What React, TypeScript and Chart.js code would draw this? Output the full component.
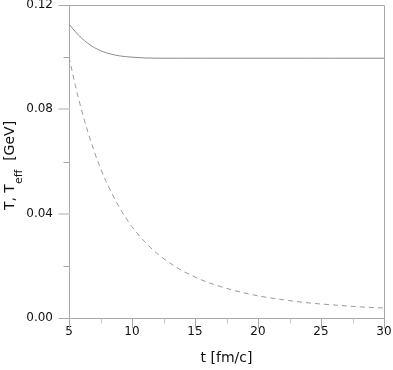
import React, { useEffect, useRef } from "react";
import { Chart, registerables } from "chart.js";

Chart.register(...registerables);

// time [fm/c]
const tValues = [5, 5.5, 6, 6.5, 7, 7.5, 8, 9, 10, 11, 12, 13, 14, 15, 16, 18, 20, 22, 24, 26, 28, 30];
// T [GeV] (solid)
const tempT = [0.1127, 0.1098, 0.1073, 0.1053, 0.1037, 0.1025, 0.1016, 0.1005, 0.1, 0.0997, 0.0996, 0.0996, 0.0996, 0.0996, 0.0996, 0.0996, 0.0996, 0.0996, 0.0996, 0.0996, 0.0996, 0.0996];
// T_eff [GeV] (dashed)
const tempTeff = [0.1, 0.0892, 0.0797, 0.0713, 0.0639, 0.0574, 0.0518, 0.0424, 0.035, 0.0293, 0.0247, 0.0211, 0.0181, 0.0157, 0.0137, 0.0107, 0.0085, 0.007, 0.0058, 0.005, 0.0043, 0.0038];

const xMajorTicks = [5, 10, 15, 20, 25, 30];
const xMinorTicks = [7.5, 12.5, 17.5, 22.5, 27.5];
const yMajorTicks = [0, 0.04, 0.08, 0.12];
const yMinorTicks = [0.02, 0.06, 0.1];

const FONT = "'DejaVu Sans', Verdana, sans-serif";
const AXIS_COLOR = "#a8a8a8";

const ticksPlugin = {
  id: "customTicks",
  afterDraw(chart: any) {
    const { ctx, chartArea } = chart;
    const xs = chart.scales.x;
    const ys = chart.scales.y;
    const al = (p: number) => Math.round(p) + 0.5;
    ctx.save();
    // frame top & right
    ctx.strokeStyle = AXIS_COLOR;
    ctx.lineWidth = 1;
    ctx.beginPath();
    ctx.moveTo(al(chartArea.left), al(chartArea.top));
    ctx.lineTo(al(chartArea.right), al(chartArea.top));
    ctx.lineTo(al(chartArea.right), al(chartArea.bottom));
    ctx.stroke();
    // y ticks
    const left = al(chartArea.left);
    yMajorTicks.forEach((v) => {
      const y = ys.getPixelForValue(v);
      const edge = v === 0 || v === 0.12;
      ctx.strokeStyle = edge ? AXIS_COLOR : "#d6d6d6";
      ctx.lineWidth = edge ? 1 : 2;
      const yy = edge ? al(y) : Math.round(y);
      ctx.beginPath();
      ctx.moveTo(left - 11, yy);
      ctx.lineTo(left, yy);
      ctx.stroke();
    });
    yMinorTicks.forEach((v) => {
      const y = al(ys.getPixelForValue(v));
      ctx.strokeStyle = AXIS_COLOR;
      ctx.lineWidth = 1;
      ctx.beginPath();
      ctx.moveTo(left - 6, y);
      ctx.lineTo(left, y);
      ctx.stroke();
    });
    const bottom = al(chartArea.bottom);
    xMajorTicks.forEach((v) => {
      const x = al(xs.getPixelForValue(v));
      ctx.strokeStyle = AXIS_COLOR;
      ctx.lineWidth = 1;
      ctx.beginPath();
      ctx.moveTo(x, bottom);
      ctx.lineTo(x, bottom + 10);
      ctx.stroke();
    });
    xMinorTicks.forEach((v) => {
      const x = al(xs.getPixelForValue(v));
      ctx.strokeStyle = "#c4c4c4";
      ctx.lineWidth = 1;
      ctx.beginPath();
      ctx.moveTo(x, bottom);
      ctx.lineTo(x, bottom + 5);
      ctx.stroke();
    });
    // y title with subscript
    const cy = (chartArea.top + chartArea.bottom) / 2 + 4;
    ctx.translate(14, cy);
    ctx.rotate(-Math.PI / 2);
    ctx.fillStyle = "#111";
    ctx.textBaseline = "alphabetic";
    ctx.textAlign = "left";
    const mainFont = `14px ${FONT}`;
    const subFont = `11px ${FONT}`;
    const p1 = "T, T";
    const p2 = "eff";
    const p3 = "  [GeV]";
    ctx.font = mainFont;
    const w1 = ctx.measureText(p1).width;
    const w3 = ctx.measureText(p3).width;
    ctx.font = subFont;
    const w2 = ctx.measureText(p2).width;
    let x0 = -(w1 + w2 + w3) / 2;
    ctx.font = mainFont;
    ctx.fillText(p1, x0, 0);
    x0 += w1;
    ctx.font = subFont;
    ctx.fillText(p2, x0, 8);
    x0 += w2;
    ctx.font = mainFont;
    ctx.fillText(p3, x0, 0);
    ctx.restore();
  },
};

export default function App() {
  const canvasRef = useRef<HTMLCanvasElement | null>(null);

  useEffect(() => {
    document.body.style.margin = "0";
    const canvas = canvasRef.current;
    if (!canvas) return;
    const chart = new Chart(canvas, {
      type: "scatter",
      data: {
        datasets: [
          {
            label: "T",
            data: tValues.map((t, i) => ({ x: t, y: tempT[i] })),
            showLine: true,
            borderColor: "#8a8a8a",
            borderWidth: 1,
            pointRadius: 0,
            cubicInterpolationMode: "monotone",
          },
          {
            label: "T_eff",
            data: tValues.map((t, i) => ({ x: t, y: tempTeff[i] })),
            showLine: true,
            borderColor: "#9a9a9a",
            borderWidth: 1,
            borderDash: [5, 4],
            pointRadius: 0,
            cubicInterpolationMode: "monotone",
          },
        ],
      },
      options: {
        responsive: false,
        animation: false,
        layout: { padding: { top: 5, right: 9, left: 0, bottom: 0 } },
        plugins: { legend: { display: false }, tooltip: { enabled: false } },
        scales: {
          x: {
            type: "linear",
            min: 5,
            max: 30,
            afterFit: (s: any) => {
              s.height = 52;
              s.paddingLeft = 0;
              s.paddingRight = 0;
            },
            afterBuildTicks: (s: any) => {
              s.ticks = xMajorTicks.map((v) => ({ value: v }));
            },
            ticks: {
              padding: 8,
              color: "#111",
              font: { family: FONT, size: 12, lineHeight: 1 },
              callback: (v: any) => String(v),
              maxRotation: 0,
              autoSkip: false,
            },
            grid: { display: true, drawOnChartArea: false, drawTicks: false },
            border: { display: true, color: AXIS_COLOR, width: 1 },
            title: {
              display: true,
              text: "t [fm/c]",
              color: "#111",
              font: { family: FONT, size: 14 },
              padding: { top: 0, bottom: 3 },
            },
          },
          y: {
            type: "linear",
            min: 0,
            max: 0.12,
            afterFit: (s: any) => {
              s.width = 69;
              s.paddingTop = 0;
              s.paddingBottom = 0;
            },
            afterBuildTicks: (s: any) => {
              s.ticks = yMajorTicks.map((v) => ({ value: v }));
            },
            ticks: {
              padding: 16,
              color: "#111",
              font: { family: FONT, size: 12, lineHeight: 0.8 },
              callback: (v: any) => Number(v).toFixed(2),
              autoSkip: false,
            },
            grid: { display: true, drawOnChartArea: false, drawTicks: false },
            border: { display: true, color: AXIS_COLOR, width: 1 },
          },
        },
      },
      plugins: [ticksPlugin],
    });
    return () => chart.destroy();
  }, []);

  return (
    <div style={{ position: "fixed", left: 0, top: 0, width: 393, height: 370, background: "#fff" }}>
      <canvas ref={canvasRef} width={393} height={370} style={{ display: "block" }} />
    </div>
  );
}
